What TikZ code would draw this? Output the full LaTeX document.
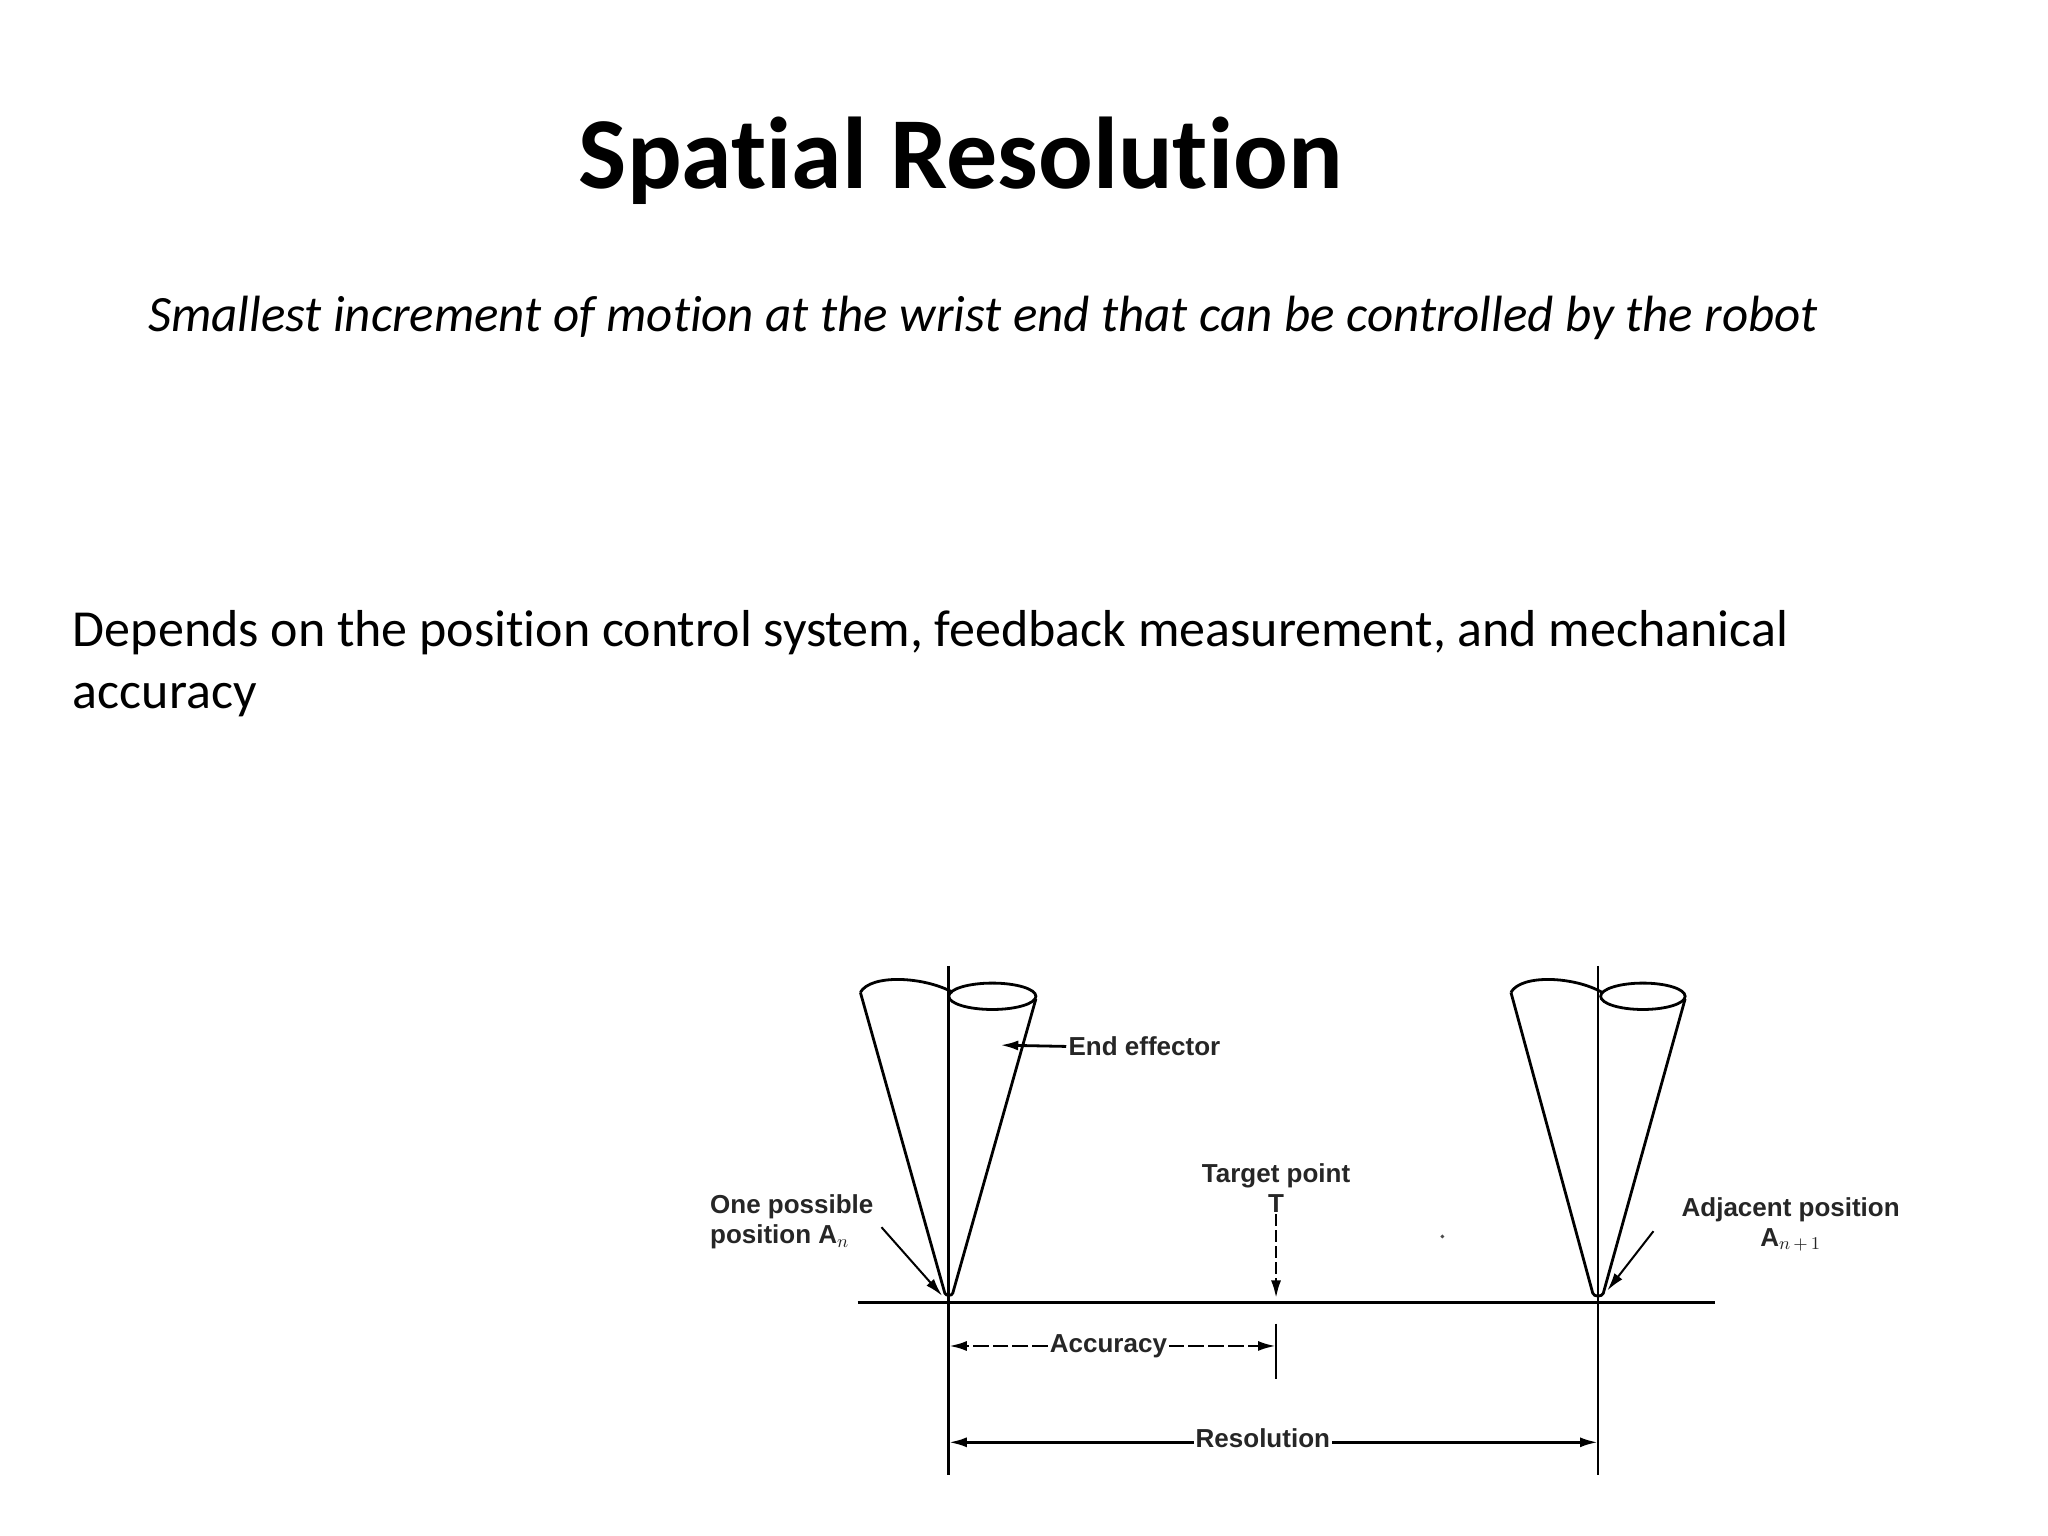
\documentclass[tikz,border=0pt]{standalone}
\usepackage{fontspec}
\setmainfont{Carlito}[Ligatures=NoCommon]
\newfontfamily\lab{Liberation Sans}
\usetikzlibrary{arrows.meta}
\begin{document}
\begin{tikzpicture}[x=0.66pt,y=-0.66pt,
  ln/.style={line width=1.4pt},
  tip/.style={-{Latex[length=9pt,width=5pt]}},
  lbl/.style={font=\lab\bfseries\fontsize{13}{15}\selectfont,inner sep=1pt,fill=white,align=center,text=black!85}]
\useasboundingbox[fill=white] (0,0) rectangle (1552,1164);
\node[font=\bfseries\fontsize{51}{60}\selectfont] (title) at (728,122) {Spatial Resolution};
\node[font=\itshape\fontsize{25.5}{30}\selectfont,anchor=west,inner sep=0] (sub) at (112,241) {Smallest increment of motion at the wrist end that can be controlled by the robot};
\node[font=\fontsize{26}{31}\selectfont,anchor=west,align=left,inner sep=0] (body) at (55,503) {Depends on the position control system, feedback measurement, and mechanical\\accuracy};
% ground
\coordinate (g1) at (650,987); \coordinate (g2) at (1300,987);
\draw[line width=1.8pt] (g1) -- (g2);
% left cone
\coordinate (la) at (719,985);
\draw[ln] (719,732) -- (719,1118);
\draw[ln] (652,752) -- (716,980) to[out=-70,in=-110] (722,980) -- (785,757);
\draw[ln] (652,752) .. controls (660,738) and (700,740) .. (722,752);
\draw[ln] (752,755) ellipse [x radius=33, y radius=10];
% right cone
\coordinate (ra) at (1211,985);
\draw[ln] (1211,732) -- (1211,1118);
\draw[ln] (1145,752) -- (1207,980) to[out=-70,in=-110] (1215,980) -- (1277,757);
\draw[ln] (1145,752) .. controls (1153,738) and (1193,740) .. (1214,752);
\draw[ln] (1245,755) ellipse [x radius=32, y radius=10];
% end effector
\node[lbl,anchor=west] (ee) at (808,793) {End effector};
\coordinate (eet) at (758,792);
\draw[ln,tip] (ee.west) -- (eet);
% target
\node[lbl] (tp) at (967,900) {Target point\\T};
\coordinate (tpt) at (967,984);
\draw[ln,tip,dashed,dash pattern=on 6pt off 2pt] (tp.south) -- (tpt);
\draw[ln] (967,1003) -- (967,1045);
% accuracy
\coordinate (a1) at (719,1020); \coordinate (a2) at (967,1020);
\draw[ln,tip,dash pattern=on 8pt off 2pt] (840,1020) -- (a1);
\draw[ln,tip,dash pattern=on 8pt off 2pt] (840,1020) -- (a2);
\node[lbl] (acc) at (840,1020) {Accuracy};
% resolution
\coordinate (r1) at (719,1093); \coordinate (r2) at (1211,1093);
\draw[ln,tip] (957,1093) -- (r1);
\draw[ln,tip] (957,1093) -- (r2);
\node[lbl] (res) at (957,1090) {Resolution};
% labels with arrows
\node[lbl,align=left] (one) at (600,926) {One possible\\position A$_n$};
\coordinate (oa) at (714,982);
\draw[line width=1pt,tip] (668,930) -- (oa);
\node[lbl] (adj) at (1357,928) {Adjacent position\\A$_{n\,+\,1}$};
\coordinate (aa) at (1218,978);
\draw[line width=1pt,tip] (1253,933) -- (aa);
\fill[black!70] (1093,937) circle (1.5);
\end{tikzpicture}
\end{document}
